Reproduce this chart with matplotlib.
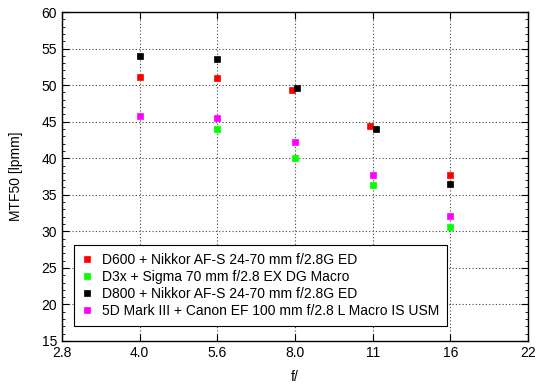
import matplotlib
matplotlib.use("Agg")
import matplotlib.pyplot as plt
from matplotlib.ticker import FixedLocator, NullLocator, MultipleLocator

plt.rcParams['font.family'] = ['Liberation Sans', 'DejaVu Sans']

# nominal f-stops and their exact positions (powers of sqrt(2))
tick_pos = [2 ** (k / 2) for k in range(3, 10)]
tick_labels = ["2.8", "4.0", "5.6", "8.0", "11", "16", "22"]

labels = [
    "D600 + Nikkor AF-S 24-70 mm f/2.8G ED",
    "D3x + Sigma 70 mm f/2.8 EX DG Macro",
    "D800 + Nikkor AF-S 24-70 mm f/2.8G ED",
    "5D Mark III + Canon EF 100 mm f/2.8 L Macro IS USM",
]
colors = ["#ff0000", "#00ff00", "#000000", "#ff00ff"]

d600_x = [4.0, 5.657, 7.9, 11.16, 16.0]
d600_y = [51.15, 50.95, 49.3, 44.35, 37.75]

d3x_x = [5.657, 8.0, 11.31, 16.0]
d3x_y = [44.05, 40.05, 36.3, 30.55]

d800_x = [4.0, 5.657, 8.07, 11.46, 16.0]
d800_y = [53.95, 53.55, 49.55, 43.95, 36.45]

mk3_x = [4.0, 5.657, 8.0, 11.31, 16.0]
mk3_y = [45.75, 45.55, 42.25, 37.65, 32.05]

series = [(d600_x, d600_y), (d3x_x, d3x_y), (d800_x, d800_y), (mk3_x, mk3_y)]

fig = plt.figure(figsize=(5.5, 3.89), dpi=100)
ax = fig.add_axes([62 / 550, 48 / 389, 466 / 550, 329 / 389])

for (xs, ys), c, lab in zip(series, colors, labels):
    ax.plot(xs, ys, linestyle='none', marker='s', markersize=4.5,
            markerfacecolor=c, markeredgecolor=c, markeredgewidth=0.5, label=lab, zorder=3)

ax.set_xscale('log')
ax.set_xlim(tick_pos[0], tick_pos[-1])
ax.xaxis.set_major_locator(FixedLocator(tick_pos))
ax.xaxis.set_minor_locator(NullLocator())
ax.set_xticklabels(tick_labels)

ax.set_ylim(15, 60)
ax.yaxis.set_major_locator(MultipleLocator(5))
ax.yaxis.set_minor_locator(MultipleLocator(1))

ax.grid(True, which='major', color='#444444', linestyle=(0, (1, 2)), linewidth=0.8)
ax.tick_params(which='both', direction='in', top=True, right=True, labelsize=10, colors='black')
ax.tick_params(which='major', length=5, width=0.8)
ax.tick_params(which='minor', length=2.5, width=0.6)
for s in ax.spines.values():
    s.set_linewidth(1.0)

ax.set_xlabel("f/", fontsize=10, labelpad=7.5)
ax.set_ylabel("MTF50 [lpmm]", fontsize=10, labelpad=13)

leg = ax.legend(loc='lower left', bbox_to_anchor=(0.0258, 0.0456), borderaxespad=0,
                fontsize=10, fancybox=False, framealpha=1, edgecolor='black',
                handlelength=0.6, handletextpad=0.8, labelspacing=0.2, borderpad=0.6,
                markerscale=1.0)
leg.get_frame().set_linewidth(0.8)

fig.savefig("out.png", dpi=100)
